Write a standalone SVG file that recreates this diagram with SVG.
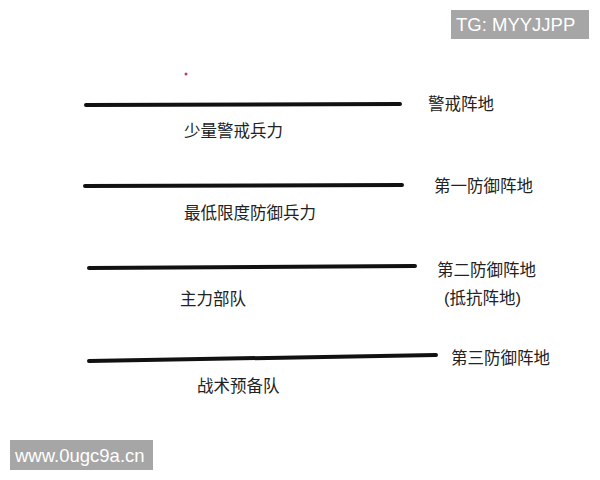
<svg xmlns="http://www.w3.org/2000/svg" width="600" height="480" viewBox="0 0 600 480">
<style>
.ln{stroke:#111;stroke-width:4;stroke-linecap:round;fill:none}
.t{font-family:"Liberation Sans","Noto Sans CJK SC",sans-serif;font-size:16.5px;fill:#222}
.wm{fill:#a6a6a6}
.wt{font-family:"Liberation Sans","Noto Sans",sans-serif;font-size:18.5px;fill:#fff}
</style>
<rect width="600" height="480" fill="#fff"/>
<g id="connectors">
<path class="ln" d="M86 105 L400 104"/>
<path class="ln" d="M85 186 L402 185"/>
<path class="ln" d="M89 268 L415 266"/>
<path class="ln" d="M89 361 L436 355"/>
</g>
<circle cx="186" cy="74" r="1.5" fill="#c04050"/>
<g id="n1"><text class="t" x="428" y="110">警戒阵地</text><text class="t" x="184" y="137">少量警戒兵力</text></g>
<g id="n2"><text class="t" x="434" y="192">第一防御阵地</text><text class="t" x="184" y="219">最低限度防御兵力</text></g>
<g id="n3"><text class="t" x="437" y="276">第二防御阵地</text><text class="t" x="444" y="304">(抵抗阵地)</text><text class="t" x="180" y="305">主力部队</text></g>
<g id="n4"><text class="t" x="451" y="364">第三防御阵地</text><text class="t" x="197" y="392">战术预备队</text></g>
<g id="wm1"><rect class="wm" x="451" y="10" width="138" height="29"/><text class="wt" x="456" y="31">TG: MYYJJPP</text></g>
<g id="wm2"><rect class="wm" x="10" y="440" width="143" height="30"/><text class="wt" x="15" y="462">www.0ugc9a.cn</text></g>
</svg>
